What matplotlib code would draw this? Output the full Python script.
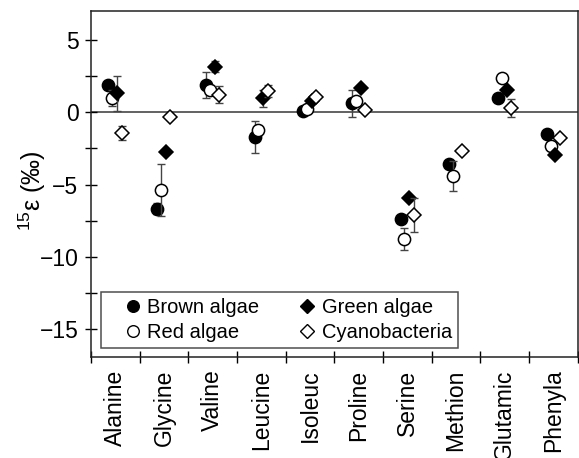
import numpy as np
import matplotlib
matplotlib.use('Agg')
import matplotlib.pyplot as plt
from matplotlib.lines import Line2D

plt.rcParams['font.family'] = ['Liberation Sans', 'DejaVu Sans']
plt.rcParams['mathtext.fontset'] = 'custom'
plt.rcParams['mathtext.rm'] = 'Liberation Sans'

# amino acids and 15-epsilon values (per mil)
amino = ['Alanine', 'Glycine', 'Valine', 'Leucine', 'Isoleuc',
         'Proline', 'Serine', 'Methion', 'Glutamic', 'Phenyla']

brown = [1.9, -6.65, 1.9, -1.7, 0.05, 0.6, -7.35, -3.6, 1.0, -1.5]
brown_err = [0, 0.4, 0.9, 1.1, 0, 0.9, 0, 0, 0, 0]

red = [0.95, -5.4, 1.5, -1.25, 0.2, 0.8, -8.75, -4.4, 2.35, -2.35]
red_err = [0.55, 1.8, 0, 0, 0, 0, 0.75, 1.05, 0, 0]

green = [1.3, -2.75, 3.15, 0.95, 0.8, 1.65, -5.9, np.nan, 1.55, -2.95]
green_err = [1.2, 0, 0.4, 0.6, 0, 0, 0, 0, 0, 0]

cyan = [-1.45, -0.35, 1.2, 1.45, 1.05, 0.15, -7.1, -2.65, 0.3, -1.8]
cyan_err = [0.5, 0, 0.6, 0.4, 0, 0, 1.15, 0, 0.6, 0]

series = [
    ('Brown algae', brown, brown_err, 'o', 'black', -0.14),
    ('Red algae', red, red_err, 'o', 'white', -0.06),
    ('Green algae', green, green_err, 'D', 'black', 0.04),
    ('Cyanobacteria', cyan, cyan_err, 'D', 'white', 0.13),
]

fig = plt.figure(figsize=(5.79, 4.58), dpi=100)
ax = fig.add_axes([0.157, 0.2205, 0.841, 0.756])

x = np.arange(len(amino)) + 0.5
ax.axhline(0, color='#555555', lw=1.3, zorder=1)

handles = {}
for z, (name, vals, err, mk, fc, off) in enumerate(series):
    vals = np.array(vals, dtype=float)
    err = np.array(err, dtype=float)
    has = err > 0
    ax.errorbar(x[has] + off, vals[has], yerr=err[has], fmt='none',
                ecolor='#444444', elinewidth=1, capsize=3, capthick=1,
                zorder=2 + z)
    ms = 8.8 if mk == 'o' else 7.0
    ax.plot(x + off, vals, linestyle='none', marker=mk, ms=ms,
            mfc=fc, mec='black', mew=1.1, zorder=2.5 + z)
    handles[name] = Line2D([], [], linestyle='none', marker=mk,
                           ms=ms * 0.95, mfc=fc, mec='black', mew=1.0)

ax.set_xlim(0, 10)
ax.set_ylim(-16.9, 7)

ax.set_xticks(np.arange(0, 11))
ax.set_xticklabels([])
ax.set_xticks(x, minor=True)
ax.set_xticklabels(amino, minor=True, rotation=90, fontsize=16.5)
ax.tick_params(axis='x', which='major', direction='inout', length=8, width=1)
ax.tick_params(axis='x', which='minor', length=0, pad=9)

ax.set_yticks([-15, -10, -5, 0, 5])
ax.set_yticklabels(['\u221215', '\u221210', '\u22125', '0', '5'], fontsize=16.5)
ax.set_yticks([-12.5, -7.5, -2.5, 2.5], minor=True)
ax.tick_params(axis='y', which='both', direction='inout', length=8, width=1, pad=5)

for s in ax.spines.values():
    s.set_linewidth(1.1)
    s.set_color('#222222')

ax.set_ylabel('$^{15}$\u03b5 (\u2030)', fontsize=18)
ax.yaxis.set_label_coords(-0.088, 0.48)

order = ['Brown algae', 'Red algae', 'Green algae', 'Cyanobacteria']
leg = ax.legend([handles[k] for k in order], order, ncol=2, loc='lower left',
                bbox_to_anchor=(0.02, 0.026), borderaxespad=0, fontsize=14.5,
                frameon=True, fancybox=False, edgecolor='#222222',
                handlelength=2.6, handletextpad=-0.6, columnspacing=1.1,
                borderpad=0.3, labelspacing=0.3)
leg.get_frame().set_linewidth(1.1)

fig.savefig('out.png', dpi=100)
